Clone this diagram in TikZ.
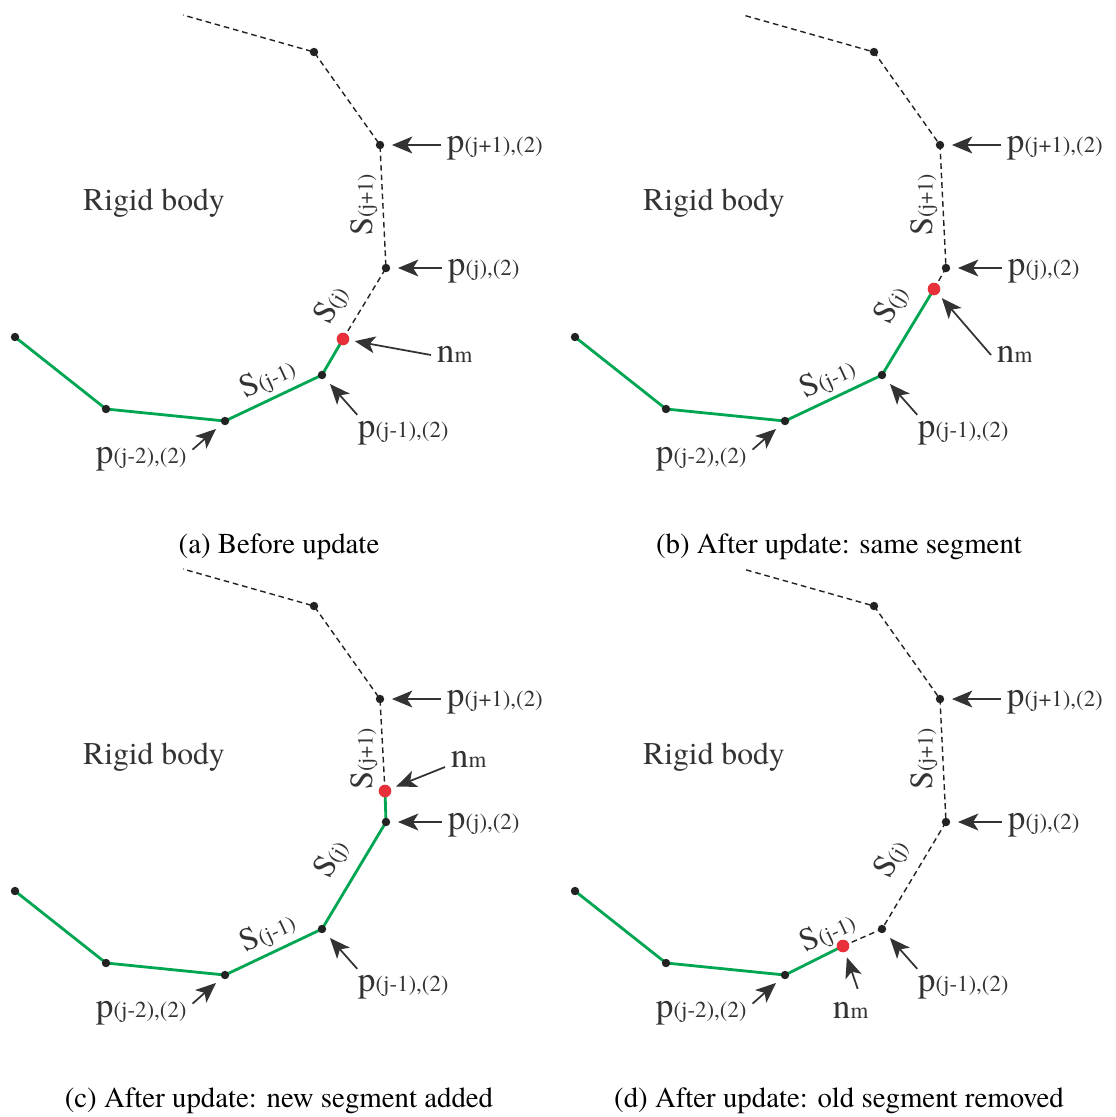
\documentclass[tikz,border=0pt]{standalone}
\usepackage{fontspec}
\setmainfont{TeX Gyre Termes}
\usetikzlibrary{arrows.meta}
\definecolor{txtgray}{HTML}{333333}
\definecolor{dotgray}{HTML}{222222}
\definecolor{keptgreen}{HTML}{00A651}
\definecolor{nodered}{HTML}{E8303A}
\newcommand{\psub}[1]{{\fontsize{6.5}{8}\selectfont #1}}
\newcommand{\ssub}[1]{{\fontsize{6.2}{8}\selectfont #1}}

\begin{document}
\begin{tikzpicture}[
    x=0.01cm, y=-0.01cm,
    every node/.style={text=txtgray, inner sep=1.5pt},
    plab/.style={font=\fontsize{10}{12}\selectfont},
    seglab/.style={font=\fontsize{9.2}{11}\selectfont},
    body/.style={font=\fontsize{9}{11}\selectfont},
    subcap/.style={font=\fontsize{8.2}{10}\selectfont, text=black},
    ptr/.style={draw=txtgray, line width=0.5pt,
        -{Stealth[length=5.8pt, width=4.8pt, inset=1.5pt]}, shorten >=3.4pt},
    kept/.style={draw=keptgreen, line width=0.8pt, line join=round},
    old/.style={draw=dotgray, line width=0.4pt, dash pattern=on 1.6pt off 1.1pt}
]
\useasboundingbox (0,0) rectangle (1116,1117);

% Common parts of the four panels
\foreach \pn/\dx/\dy/\captxt in {a/0/0/{(a) Before update},
    b/560/0/{(b) After update: same segment},
    c/0/554/{(c) After update: new segment added},
    d/560/554/{(d) After update: old segment removed}}{
\begin{scope}[shift={(\dx,\dy)}]
    % polyline corners
    \coordinate (\pn0) at (183,15);
    \coordinate (\pn1) at (314,52);
    \coordinate (\pn2) at (380,145);
    \coordinate (\pn3) at (386,268);
    \coordinate (\pn4) at (322,375);
    \coordinate (\pn5) at (225,421);
    \coordinate (\pn6) at (106,409);
    \coordinate (\pn7) at (15,337);

    \node[body] (\pn-body) at (154,203) {Rigid body};

    % point labels
    \node[plab, anchor=mid west] (\pn-pj1) at (441,145) {p\psub{(j+1),(2)}};
    \node[plab, anchor=mid west] (\pn-pj) at (442,268) {p\psub{(j),(2)}};
    \node[plab, anchor=base west] (\pn-pjm1) at (352,437) {p\psub{(j-1),(2)}};
    \node[plab, anchor=base west] (\pn-pjm2) at (90,463) {p\psub{(j-2),(2)}};

    % segment labels
    \node[seglab, rotate=90] (\pn-s1) at (364,205) {S\ssub{(j+1)}};
    \node[seglab, rotate=59] (\pn-s0) at (332,305) {S\ssub{(j)}};
    \node[seglab, rotate=25] (\pn-sm1) at (268,379) {S\ssub{(j-1)}};

    \draw[ptr] (\pn-pj1.mid west) -- (\pn2);
    \draw[ptr] (\pn-pj.mid west) -- (\pn3);
    \draw[ptr] ([xshift=1.5pt]\pn-pjm1.north west) -- (\pn4);
    \draw[ptr] ([yshift=-2.5pt]\pn-pjm2.north east) -- (\pn5);

    \node[subcap] (\pn-cap) at (279,547) {\captxt};
\end{scope}}

% (a) before update
\coordinate (am) at (343,339);
\draw[kept] (a7) -- (a6) -- (a5) -- (a4) -- (am);
\draw[old] (am) -- (a3) -- (a2) -- (a1) -- (a0);
\node[plab, anchor=mid west] (a-nm) at (431,355) {n\psub{m}};
\draw[ptr] (a-nm.mid west) -- (am);

% (b) same segment
\coordinate (bm) at (934,289);
\draw[kept] (b7) -- (b6) -- (b5) -- (b4) -- (bm);
\draw[old] (bm) -- (b3) -- (b2) -- (b1) -- (b0);
\node[plab, anchor=mid west] (b-nm) at (991,355) {n\psub{m}};
\draw[ptr] (b-nm.mid west) -- (bm);

% (c) new segment added
\coordinate (cm) at (385,791);
\draw[kept] (c7) -- (c6) -- (c5) -- (c4) -- (c3) -- (cm);
\draw[old] (cm) -- (c2) -- (c1) -- (c0);
\node[plab, anchor=base west] (c-nm) at (445,767) {n\psub{m}};
\draw[ptr] (c-nm.base west) -- (cm);

% (d) old segment removed
\coordinate (dm) at (843,946);
\draw[kept] (d7) -- (d6) -- (d5) -- (dm);
\draw[old] (dm) -- (d4) -- (d3) -- (d2) -- (d1) -- (d0);
\node[plab, anchor=base west] (d-nm) at (827,1018) {n\psub{m}};
\draw[ptr] ([xshift=2pt,yshift=2pt]d-nm.north) -- (dm);

% dots on top
\foreach \pn in {a,b,c,d}{
    \foreach \k in {1,...,7}
        \fill[dotgray] (\pn\k) circle[radius=1.2pt];
    \fill[nodered] (\pn m) circle[radius=1.8pt];
}
\end{tikzpicture}
\end{document}
